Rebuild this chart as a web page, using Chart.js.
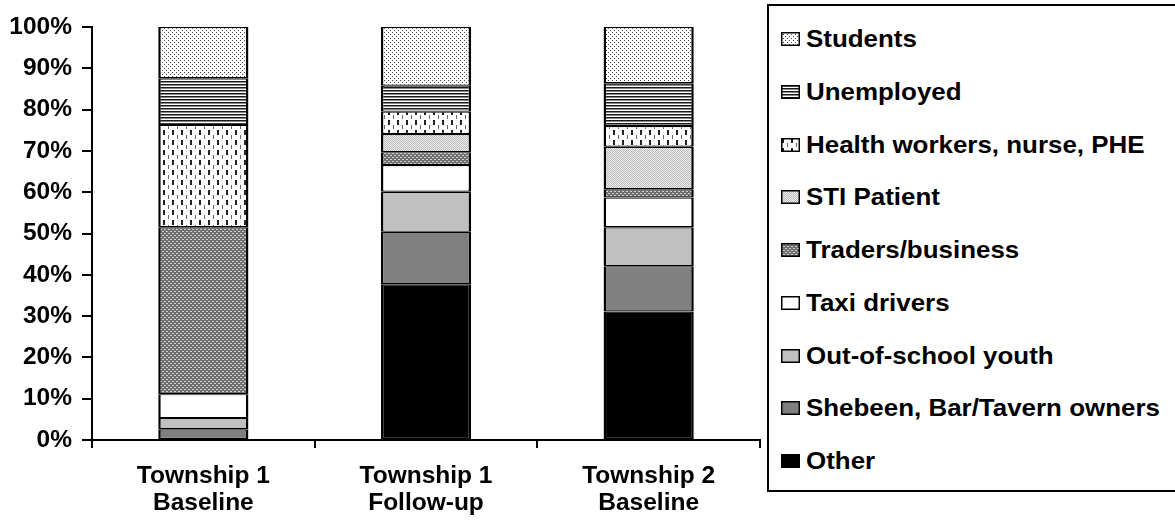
<!DOCTYPE html>
<html><head><meta charset="utf-8">
<script src="https://cdn.jsdelivr.net/npm/chart.js@4/dist/chart.umd.min.js"></script>
<style>
html,body{margin:0;padding:0;background:#fff;overflow:hidden;}
#wrap{position:relative;width:1175px;height:525px;overflow:hidden;}
#chart{position:absolute;left:0;top:0;}
#legend{position:absolute;left:767px;top:4px;width:440px;height:488px;border:2px solid #000;box-sizing:border-box;background:#fff;}
.item{position:absolute;left:12px;height:26px;display:flex;align-items:center;}
.sw{display:block;width:19px;height:14px;}
.tx{font-family:"Liberation Sans",Arial,sans-serif;font-weight:bold;font-size:24px;color:#000;transform:scaleX(1.08);transform-origin:left center;margin-left:6px;white-space:nowrap;line-height:26px;}
</style>
</head><body>
<div id="wrap">
<canvas id="chart" width="1175" height="525"></canvas>
<div id="legend"></div>
</div>
<script>
// ---- data ----
const categories = [['Township 1','Baseline'],['Township 1','Follow-up'],['Township 2','Baseline']];
const seriesNames = ['Other','Shebeen, Bar/Tavern owners','Out-of-school youth','Taxi drivers','Traders/business','STI Patient','Health workers, nurse, PHE','Unemployed','Students'];
const other      = [0, 37.7, 31.1];
const shebeen    = [2.6, 12.7, 11.0];
const youth      = [2.7, 9.7, 9.4];
const taxi       = [5.8, 6.5, 7.2];
const traders    = [40.4, 3.1, 2.0];
const sti        = [0, 4.4, 10.3];
const health     = [24.8, 5.4, 5.0];
const unemployed = [11.3, 6.3, 10.4];
const students   = [12.4, 14.2, 13.6];
const yTickLabels = ['0%','10%','20%','30%','40%','50%','60%','70%','80%','90%','100%'];

// ---- patterns ----
function makePattern(w,h,draw){
  const c=document.createElement('canvas');c.width=w;c.height=h;
  const g=c.getContext('2d');draw(g);
  return document.createElement('canvas').getContext('2d').createPattern(c,'repeat');
}
const pStudents = makePattern(4,4,g=>{g.fillStyle='#fff';g.fillRect(0,0,4,4);g.fillStyle='#444';g.fillRect(0,0,1,1);g.fillRect(2,2,1,1);});
const pUnemployed = makePattern(4,3,g=>{g.fillStyle='#fff';g.fillRect(0,0,4,3);g.fillStyle='#1a1a1a';g.fillRect(0,0,4,1);g.fillStyle='#888';g.fillRect(0,1,4,1);});
const pHealth = makePattern(9,10,g=>{g.fillStyle='#fff';g.fillRect(0,0,9,10);g.fillStyle='#222';g.fillRect(1,0,2,5);g.fillStyle='#666';g.fillRect(6,5,1,4);});
const pSTI = makePattern(2,2,g=>{g.fillStyle='#eee';g.fillRect(0,0,2,2);g.fillStyle='#bbb';g.fillRect(0,0,1,1);g.fillRect(1,1,1,1);});
const pTraders = makePattern(4,4,g=>{g.fillStyle='#6e6e6e';g.fillRect(0,0,4,4);g.fillStyle='#d0d0d0';g.fillRect(0,1,2,1);g.fillRect(2,3,2,1);});

const fills = ['#000000','#808080','#c0c0c0','#ffffff',pTraders,pSTI,pHealth,pUnemployed,pStudents];
const seriesData = [other,shebeen,youth,taxi,traders,sti,health,unemployed,students];

const FONT = '"Liberation Sans", Arial, sans-serif';
const datasets = seriesNames.map((n,i)=>({
  label:n, data:seriesData[i], backgroundColor:fills[i],
  borderColor:'#000', borderWidth:{top:1.2,bottom:1.2,left:2.5,right:2.5}, borderSkipped:false,
  categoryPercentage:1, barPercentage:0.405
}));

new Chart(document.getElementById('chart'),{
  type:'bar',
  data:{labels:categories,datasets},
  options:{
    responsive:false, animation:false,
    layout:{padding:{top:27,right:415,left:0,bottom:0}},
    plugins:{legend:{display:false},tooltip:{enabled:false}},
    scales:{
      x:{stacked:true,
         grid:{display:true,drawOnChartArea:false,drawTicks:true,tickLength:8,color:'#000',lineWidth:2,offset:true},
         border:{display:true,color:'#000',width:2},
         ticks:{color:'#000',font:{family:FONT,weight:'bold',size:24.5,lineHeight:1.13},padding:14,maxRotation:0,autoSkip:false},
         afterFit(s){s.height=85;}},
      y:{stacked:true,min:0,max:100,
         ticks:{stepSize:10,callback:(v,i)=>yTickLabels[i],color:'#000',font:{family:FONT,weight:'bold',size:24.5},padding:10},
         grid:{drawOnChartArea:false,drawTicks:true,tickLength:10,color:'#000',lineWidth:2},
         border:{display:true,color:'#000',width:2},
         afterFit(s){s.width=92;}}
    }
  }
});

// ---- legend (HTML, built from the same arrays) ----
const legend=document.getElementById('legend');
const firstCenter=39, step=52.75, legendTop=4+2;
for(let k=0;k<seriesNames.length;k++){
  const i=seriesNames.length-1-k;
  const item=document.createElement('div');item.className='item';
  item.style.top=(firstCenter+k*step-13-legendTop)+'px';
  const sw=document.createElement('canvas');sw.className='sw';sw.width=19;sw.height=14;
  const g=sw.getContext('2d');g.fillStyle=fills[i];g.fillRect(0,0,19,14);
  g.strokeStyle='#000';g.lineWidth=1.5;g.strokeRect(0.75,0.75,17.5,12.5);
  const tx=document.createElement('span');tx.className='tx';tx.textContent=seriesNames[i];
  item.appendChild(sw);item.appendChild(tx);legend.appendChild(item);
}
</script>
</body></html>
